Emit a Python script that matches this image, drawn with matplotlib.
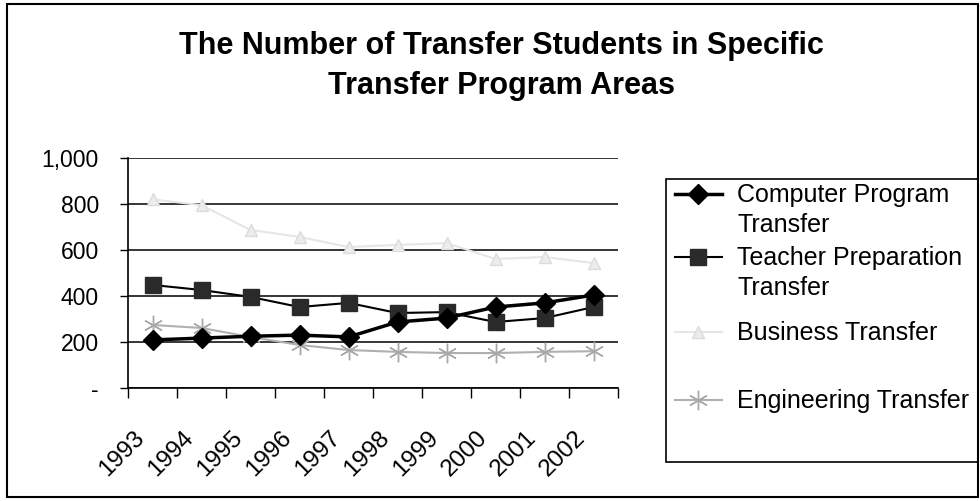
import matplotlib
matplotlib.use("Agg")
import matplotlib.pyplot as plt
import matplotlib.transforms as mtransforms
from matplotlib.patches import Rectangle
from matplotlib.lines import Line2D
import numpy as np

plt.rcParams['font.family'] = ['Liberation Sans', 'DejaVu Sans']

years = ['1993', '1994', '1995', '1996', '1997', '1998', '1999', '2000', '2001', '2002']
computer = [209, 217, 225, 230, 222, 287, 304, 352, 370, 404]
teacher = [448, 426, 396, 352, 370, 326, 330, 287, 304, 352]
business = [820, 795, 687, 657, 613, 622, 630, 561, 570, 543]
engineering = [274, 261, 222, 187, 165, 157, 152, 152, 157, 160]

series_labels = ['Computer Program\nTransfer', 'Teacher Preparation\nTransfer',
                 'Business Transfer', 'Engineering Transfer']
yticks = [0, 200, 400, 600, 800, 1000]
ytick_labels = ['-', '200', '400', '600', '800', '1,000']
title = 'The Number of Transfer Students in Specific\nTransfer Program Areas'

fig = plt.figure(figsize=(9.8, 5.01), dpi=100)
ax = fig.add_axes([128/980, 1-388/501, 490/980, 230/501])

x = np.arange(len(years))
styles = [
    dict(color='black', lw=2.5, marker='D', ms=10, mfc='black', mec='black', zorder=5),
    dict(color='black', lw=1.5, marker='s', ms=11, mfc='#2a2a2a', mec='#2a2a2a', zorder=4),
    dict(color='#e6e6e6', lw=1.5, marker='^', ms=8, mfc='#ececec', mec='#dcdcdc', zorder=3),
    dict(color='#b0b0b0', lw=1.5, marker=(6, 2, 0), ms=14, mec='#a8a8a8', zorder=3),
]
for vals, st in zip([computer, teacher, business, engineering], styles):
    ax.plot(x, vals, **st)

ax.set_xlim(-0.5, len(years) - 0.5)
ax.set_ylim(0, 1000)
ax.set_yticks(yticks)
ax.set_yticklabels(ytick_labels, fontsize=16.5)
ax.yaxis.grid(True, color='black', lw=1.1)
ax.set_axisbelow(True)
ax.tick_params(axis='y', length=6, width=1, pad=15, direction='out')

ax.set_xticks(np.arange(len(years) + 1) - 0.5)
ax.set_xticklabels([])
ax.tick_params(axis='x', which='major', length=7, width=1, direction='out')
ax.set_xticks(x, minor=True)
ax.set_xticklabels(years, minor=True, fontsize=17.5, rotation=45, ha='right', va='top')
ax.tick_params(axis='x', which='minor', length=0, pad=28)
offset = mtransforms.ScaledTranslation(-4/100, 0, fig.dpi_scale_trans)
for lab in ax.get_xticklabels(minor=True):
    lab.set_transform(lab.get_transform() + offset)

for s in ['top', 'right']:
    ax.spines[s].set_visible(False)
for s in ['left', 'bottom']:
    ax.spines[s].set_color('black')
    ax.spines[s].set_linewidth(1.2)

# Legend drawn in Excel style: each entry in its own slot, handle aligned with first text line
W, H = 980.0, 501.0
fig.patches.append(Rectangle((666/W, 1-462/H), 312/W, 283/H, transform=fig.transFigure,
                             fill=False, edgecolor='black', lw=1.2))
handle_y = [194, 257, 332, 400]
for lab, st, hy in zip(series_labels, styles, handle_y):
    st2 = {k: v for k, v in st.items() if k != 'zorder'}
    fig.add_artist(Line2D([675/W, 698/W, 722/W], [1-hy/H] * 3, transform=fig.transFigure,
                          markevery=[1], **st2))
    for i, line in enumerate(lab.split('\n')):
        fig.text(737/W, 1-(hy + 1 + 30*i)/H, line, ha='left', va='center', fontsize=18,
                 transform=fig.transFigure)

fig.text(501/W, 1-66/H, title, ha='center', va='center', fontsize=22,
         fontweight='bold', linespacing=1.45)

fig.patches.append(Rectangle((7/W, 4/H), 971/W, 493/H, transform=fig.transFigure,
                             fill=False, edgecolor='black', lw=1.5))

fig.savefig('out.png', dpi=100)
